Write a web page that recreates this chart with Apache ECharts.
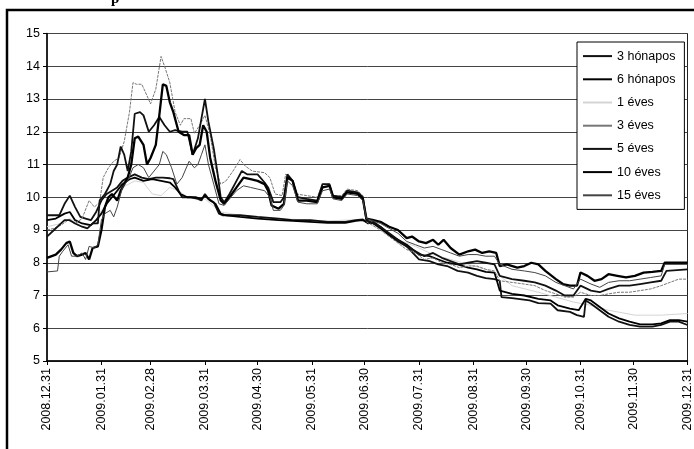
<!DOCTYPE html>
<html><head><meta charset="utf-8">
<script src="https://cdn.jsdelivr.net/npm/echarts@6/dist/echarts.min.js"></script>
<style>html,body{margin:0;padding:0;background:#fff}#c{width:694px;height:449px}</style>
</head><body><div id="c"></div>
<script>
// x categories: calendar days from 2008.12.31 to 2009.12.31 (index = day number)
const startDate = [2008, 12, 31];
const dayCount = 366;
const tickDays = [0, 31, 59, 90, 120, 151, 181, 212, 243, 273, 304, 334, 365];
const yTicks = [5, 15, 1];
const seriesNames = ['3 hónapos', '6 hónapos', '1 éves', '3 éves', '5 éves', '10 éves', '15 éves'];

// [day index, yield %]
const y3M = [[0,9.45],[7,9.45],[10,9.8],[13,10.05],[16,9.7],[19,9.4],[22,9.35],[25,9.3],[28,9.55],[31,9.9],[34,10.1],[37,10.2],[40,10.3],[43,10.5],[46,10.6],[50,10.7],[54,10.6],[58,10.55],[62,10.6],[66,10.6],[70,10.58],[72,10.55],[75,10.2],[77,10.0],[82,10.0],[86,9.95],[88,9.9],[90,10.1],[92,9.95],[95,9.85],[98,9.5],[100,9.45],[110,9.45],[120,9.4],[132,9.35],[140,9.3],[150,9.3],[160,9.25],[170,9.25],[176,9.3],[180,9.32],[183,9.2],[186,9.25],[190,9.1],[195,8.85],[200,8.65],[205,8.5],[212,8.1],[218,8.05],[223,7.95],[228,7.9],[234,7.75],[240,7.7],[245,7.6],[250,7.53],[255,7.5],[258,7.45],[259,6.95],[265,6.92],[275,6.85],[280,6.77],[287,6.75],[291,6.55],[298,6.5],[302,6.4],[306,6.35],[307,6.85],[310,6.75],[315,6.55],[320,6.35],[326,6.2],[332,6.1],[338,6.05],[345,6.05],[350,6.1],[355,6.2],[360,6.2],[365,6.1]];
const y6M = [[0,9.3],[5,9.35],[10,9.5],[13,9.55],[16,9.3],[20,9.2],[25,9.15],[28,9.3],[31,9.5],[34,9.8],[37,10.0],[40,10.2],[43,10.4],[47,10.55],[50,10.6],[55,10.5],[60,10.55],[65,10.5],[70,10.45],[73,10.3],[76,10.1],[80,10.0],[85,10.0],[88,9.95],[90,10.05],[93,9.9],[96,9.8],[99,9.5],[102,9.45],[110,9.4],[120,9.35],[132,9.3],[140,9.28],[150,9.25],[160,9.22],[170,9.22],[176,9.28],[180,9.3],[182,9.25],[186,9.2],[190,9.05],[195,8.85],[200,8.7],[205,8.55],[212,8.25],[218,8.2],[223,8.1],[228,8.0],[234,7.95],[240,7.85],[245,7.8],[250,7.72],[255,7.7],[258,7.15],[265,7.05],[272,7.0],[280,6.9],[287,6.85],[291,6.7],[298,6.6],[303,6.55],[307,6.9],[310,6.85],[315,6.65],[320,6.45],[326,6.3],[332,6.2],[338,6.12],[345,6.12],[350,6.15],[355,6.25],[360,6.25],[365,6.2]];
const y1Y = [[0,9.1],[8,9.2],[13,9.35],[20,9.1],[28,9.2],[31,9.6],[37,10.0],[43,10.3],[50,10.5],[55,10.45],[60,10.1],[65,10.05],[70,10.3],[75,10.2],[80,10.0],[90,9.95],[99,9.55],[110,9.45],[130,9.35],[160,9.28],[180,9.32],[182,9.28],[190,9.1],[200,8.7],[210,8.5],[220,8.25],[230,8.1],[240,7.95],[250,7.8],[258,7.6],[265,7.3],[280,7.1],[300,6.8],[310,6.7],[320,6.55],[335,6.4],[350,6.4],[365,6.45]];
const y3Y = [[0,9.0],[4,9.05],[8,9.15],[12,9.3],[16,9.2],[20,9.35],[24,9.9],[27,9.7],[30,9.85],[32,10.6],[35,10.9],[38,11.1],[41,11.2],[44,11.7],[47,12.6],[49,13.5],[51,13.45],[54,13.45],[57,13.1],[59,12.85],[62,13.3],[65,14.3],[67,14.0],[70,13.5],[73,12.6],[76,12.2],[78,12.4],[82,12.4],[84,11.95],[87,12.2],[90,12.5],[93,11.9],[96,10.9],[99,10.4],[102,10.5],[106,10.8],[110,11.15],[113,10.95],[117,10.8],[124,10.75],[127,10.6],[130,10.1],[134,10.05],[136,10.7],[139,10.6],[142,10.1],[148,10.05],[154,10.0],[157,10.4],[161,10.4],[163,10.05],[168,10.05],[171,10.25],[177,10.2],[180,10.05],[182,9.25],[190,9.0],[195,8.8],[200,8.6],[205,8.4],[210,8.3],[215,8.1],[220,8.15],[225,8.0],[230,7.95],[235,7.85],[240,7.9],[245,7.9],[250,7.8],[255,7.75],[258,7.45],[265,7.4],[272,7.35],[278,7.3],[284,7.15],[290,7.05],[295,6.95],[300,6.95],[304,7.1],[310,7.0],[315,7.0],[320,7.05],[326,7.1],[332,7.1],[338,7.15],[344,7.2],[350,7.3],[355,7.4],[360,7.5],[365,7.5]];
const y5Y = [[0,8.8],[4,9.0],[8,9.2],[10,9.3],[13,9.3],[16,9.2],[20,9.1],[23,9.05],[26,9.2],[29,9.2],[30,9.9],[33,10.1],[36,10.4],[38,10.8],[40,11.0],[42,11.55],[44,11.3],[46,10.8],[48,11.4],[50,12.55],[53,12.6],[55,12.5],[58,12.0],[61,12.2],[64,12.45],[67,12.2],[70,12.0],[73,12.05],[77,12.0],[80,12.0],[83,11.3],[86,11.8],[88,12.4],[90,13.0],[92,12.3],[95,11.5],[97,10.8],[99,10.0],[101,9.85],[104,10.1],[108,10.5],[111,10.8],[114,10.7],[120,10.7],[124,10.45],[126,10.3],[129,9.85],[133,9.85],[135,10.0],[137,10.7],[140,10.5],[143,10.0],[148,9.95],[154,9.9],[157,10.4],[161,10.4],[163,10.05],[168,10.0],[171,10.2],[177,10.15],[180,10.0],[182,9.3],[190,9.1],[195,8.9],[200,8.7],[205,8.5],[210,8.35],[215,8.2],[220,8.3],[225,8.15],[230,8.05],[235,7.95],[240,8.0],[245,8.05],[250,8.0],[255,7.95],[258,7.6],[265,7.5],[272,7.45],[278,7.4],[284,7.3],[290,7.15],[295,7.0],[300,7.0],[304,7.3],[310,7.15],[315,7.1],[320,7.2],[326,7.3],[332,7.3],[338,7.35],[344,7.4],[350,7.45],[353,7.75],[365,7.8]];
const y10Y = [[0,8.15],[5,8.25],[8,8.4],[11,8.6],[13,8.65],[15,8.3],[17,8.2],[20,8.25],[22,8.3],[24,8.1],[26,8.45],[29,8.5],[31,9.0],[33,9.7],[35,10.0],[37,10.1],[40,9.9],[42,10.2],[44,10.4],[46,10.6],[48,11.0],[50,11.8],[52,11.85],[55,11.6],[57,11.0],[59,11.2],[62,11.6],[64,12.5],[66,13.45],[68,13.4],[70,12.9],[72,12.6],[75,12.0],[78,11.9],[81,11.9],[83,11.3],[85,11.5],[87,11.6],[89,12.2],[91,12.0],[93,11.2],[96,10.5],[99,9.9],[101,9.8],[104,10.0],[108,10.3],[112,10.6],[116,10.55],[120,10.5],[124,10.4],[126,10.2],[128,9.75],[132,9.65],[135,9.8],[137,10.6],[140,10.5],[143,9.9],[148,9.9],[154,9.85],[157,10.3],[161,10.35],[163,10.0],[168,9.95],[171,10.15],[177,10.1],[180,9.95],[182,9.35],[186,9.3],[190,9.25],[195,9.1],[200,9.0],[205,8.75],[208,8.8],[212,8.65],[216,8.6],[220,8.7],[223,8.55],[226,8.7],[230,8.45],[235,8.25],[240,8.35],[244,8.4],[248,8.3],[252,8.35],[256,8.3],[258,7.9],[262,7.95],[268,7.85],[272,7.9],[276,8.0],[280,7.95],[284,7.75],[290,7.5],[294,7.35],[298,7.3],[302,7.3],[304,7.7],[308,7.6],[312,7.45],[316,7.5],[320,7.65],[325,7.6],[330,7.55],[335,7.6],[340,7.7],[345,7.72],[350,7.75],[352,8.0],[358,8.0],[365,8.0]];
const y15Y = [[0,7.72],[6,7.75],[7,8.2],[9,8.35],[12,8.55],[14,8.2],[17,8.2],[20,8.3],[22,8.1],[24,8.5],[27,8.45],[29,8.55],[31,9.3],[33,9.5],[36,9.6],[38,9.4],[40,9.7],[43,10.3],[46,10.5],[49,10.9],[52,11.0],[55,10.9],[58,10.6],[61,10.8],[64,11.0],[66,11.4],[68,11.3],[71,10.9],[74,10.4],[77,10.6],[81,11.1],[84,10.9],[86,11.0],[88,11.3],[90,11.6],[92,11.0],[95,10.4],[98,9.8],[101,9.75],[104,9.95],[108,10.2],[112,10.35],[116,10.3],[120,10.25],[124,10.2],[127,10.0],[129,9.6],[133,9.6],[135,9.75],[137,10.5],[140,10.35],[143,9.85],[148,9.8],[154,9.8],[157,10.2],[161,10.25],[163,9.95],[168,9.9],[171,10.1],[177,10.05],[180,9.9],[182,9.35],[190,9.2],[195,9.05],[200,8.9],[205,8.65],[210,8.55],[215,8.45],[220,8.5],[225,8.4],[230,8.3],[235,8.2],[240,8.25],[245,8.25],[250,8.2],[255,8.2],[258,7.95],[265,7.8],[272,7.75],[278,7.7],[284,7.6],[290,7.4],[295,7.3],[300,7.2],[304,7.5],[310,7.35],[315,7.25],[320,7.4],[326,7.45],[332,7.45],[338,7.5],[344,7.55],[350,7.6],[352,7.95],[365,7.95]];

const seriesData = [y3M, y6M, y1Y, y3Y, y5Y, y10Y, y15Y];
const styles = [
  {color:'#111', width:1.8, type:'solid'},
  {color:'#000', width:1.8, type:'solid'},
  {color:'#d4d4d4', width:1, type:'solid'},
  {color:'#777', width:1, type:[3,1]},
  {color:'#111', width:1.8, type:'solid'},
  {color:'#000', width:2.3, type:'solid'},
  {color:'#444', width:1, type:'solid'}
];
const legendIconH = [1.5, 1.8, 1, 1, 1.5, 2, 1];

const pad = n => (n < 10 ? '0' : '') + n;
const categories = [];
{
  const d0 = new Date(Date.UTC(startDate[0], startDate[1]-1, startDate[2]));
  for (let i = 0; i < dayCount; i++) {
    const d = new Date(d0.getTime() + i*86400000);
    categories.push(d.getUTCFullYear() + '.' + pad(d.getUTCMonth()+1) + '.' + pad(d.getUTCDate()));
  }
}
const tickSet = new Set(tickDays);

const chart = echarts.init(document.getElementById('c'), null, {renderer:'canvas'});
chart.setOption({
  animation:false,
  backgroundColor:'#fff',
  textStyle:{fontFamily:'Liberation Sans, Arial, sans-serif'},
  grid:{left:47, right:3.5, top:33.5, bottom:88, show:true, borderColor:'#222', borderWidth:1, containLabel:false},
  legend:{
    orient:'vertical', left:577, top:42,
    padding:[7,9,7,6], itemWidth:29, itemHeight:2, itemGap:9,
    icon:'rect',
    backgroundColor:'#fff', borderColor:'#000', borderWidth:1, borderRadius:0,
    textStyle:{color:'#000', fontSize:12.5, lineHeight:14.2, fontFamily:'Liberation Sans, Arial, sans-serif'},
    data:seriesNames
  },
  xAxis:{
    type:'category', data:categories, boundaryGap:false,
    axisLine:{lineStyle:{color:'#000', width:1.5}},
    axisTick:{show:true, length:4, interval:(i)=>tickSet.has(i), lineStyle:{color:'#000'}},
    axisLabel:{interval:(i)=>tickSet.has(i), rotate:90, color:'#000', fontSize:12.5, margin:7,
      showMinLabel:true, showMaxLabel:true},
    splitLine:{show:false}
  },
  yAxis:{
    type:'value', min:yTicks[0], max:yTicks[1], interval:yTicks[2],
    axisLine:{show:true, lineStyle:{color:'#000', width:1.5}},
    axisTick:{show:true, length:4, lineStyle:{color:'#000'}},
    axisLabel:{color:'#000', fontSize:12.5, margin:7},
    splitLine:{show:true, lineStyle:{color:'#444', width:1}}
  },
  series: seriesNames.map((n, k) => ({
    name:n, type:'line', data:seriesData[k], symbol:'none', showSymbol:false,
    lineStyle:{color:styles[k].color, width:styles[k].width, type:styles[k].type},
    itemStyle:{color:styles[k].color}, z: 3 + (k===2?0:1)
  })),
  graphic:[
    {type:'rect', shape:{x:7, y:10, width:720, height:480}, style:{fill:'none', stroke:'#000', lineWidth:2.5}, z:100},
    {type:'text', left:111, top:-8, style:{text:'p', font:'bold 15px "Liberation Serif", serif', fill:'#000'}, z:100}
  ]
});
</script></body></html>
